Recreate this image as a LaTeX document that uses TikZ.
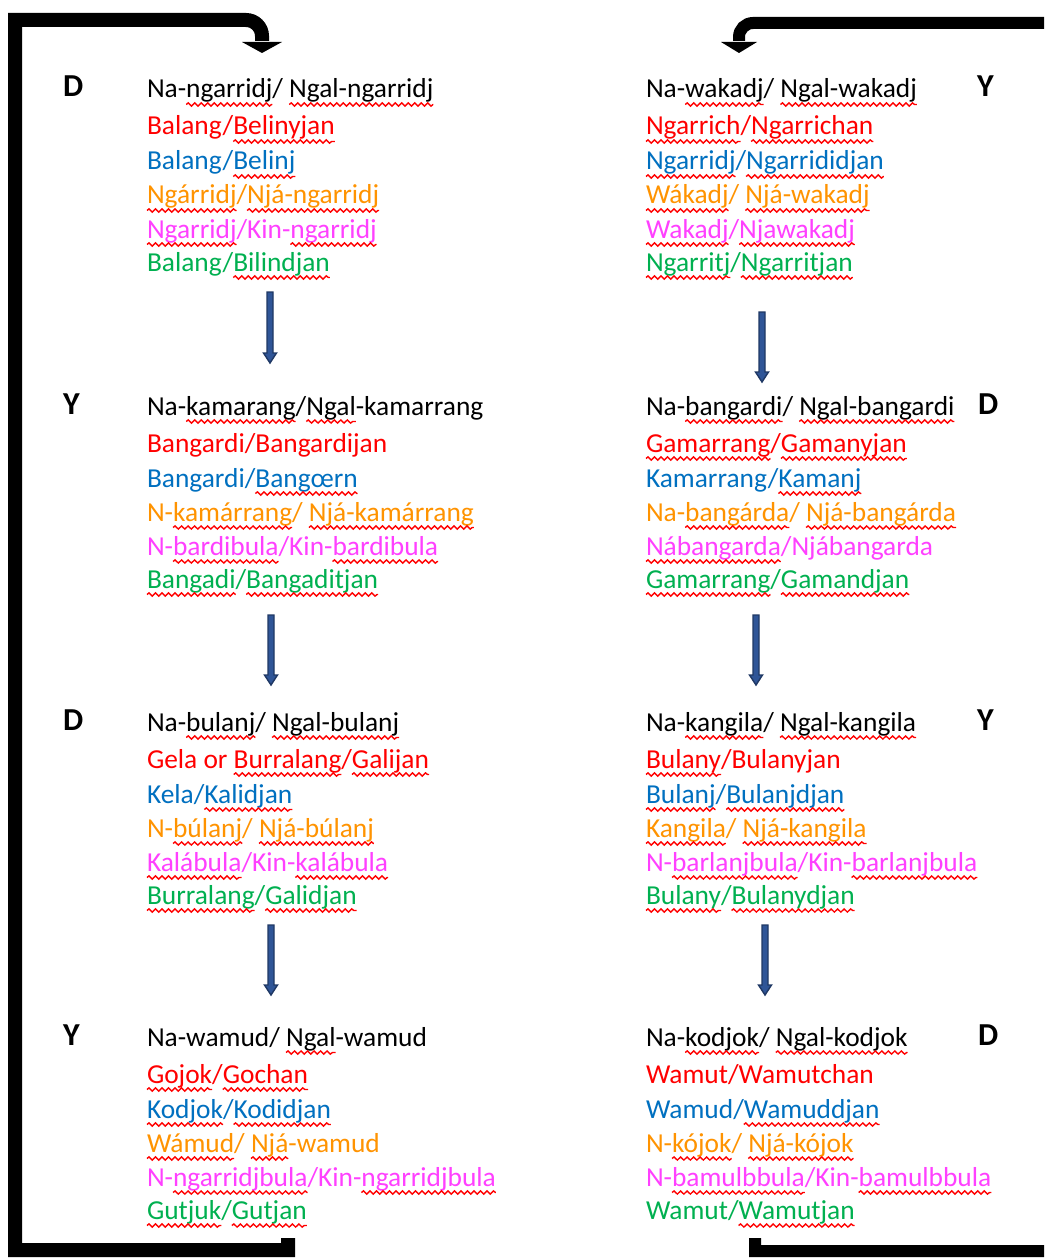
\documentclass[tikz,border=0pt]{standalone}
\usepackage{fontspec}
\setmainfont{Carlito}
\usetikzlibrary{calc,decorations.pathmorphing}
\definecolor{cred}{HTML}{FF0000}
\definecolor{cblue}{HTML}{0070C0}
\definecolor{corange}{HTML}{FF9300}
\definecolor{cmag}{HTML}{FF40FF}
\definecolor{cgreen}{HTML}{00B050}
\definecolor{arrfill}{HTML}{2F5597}
\definecolor{arredge}{HTML}{1F3864}
\newsavebox\wbox
\newdimen\wlen
\newcommand\sq[1]{\sbox\wbox{#1}\wlen=\wd\wbox\rlap{\usebox\wbox}\tikz[baseline=0pt]{\useasboundingbox (0pt,0pt) rectangle (\wlen,0pt);\draw[red,line width=1.4pt,decorate,decoration={snake,amplitude=1.6pt,segment length=6.5pt}] (0pt,-6.5pt) -- (\wlen,-6.5pt);}}
\newcommand\blk[9]{%
\node[txt] (#1a) at (#2,#3) {#4};
\node[txt,text=cred] (#1b) at (#2,#3+37) {#5};
\node[txt,text=cblue] (#1c) at (#2,#3+72) {#6};
\node[txt,text=corange] (#1d) at (#2,#3+106) {#7};
\node[txt,text=cmag] (#1e) at (#2,#3+140) {#8};
\node[txt,text=cgreen] (#1f) at (#2,#3+173) {#9};}
\newcommand\barrow[4]{%
\coordinate (#1s) at (#2,#3);
\coordinate (#1e) at (#2,#4);
\filldraw[barr] ([xshift=-3]#1s) -- ([xshift=3]#1s) -- ([xshift=3,yshift=10]#1e) -- ([xshift=6.5,yshift=10]#1e) -- (#1e) -- ([xshift=-6.5,yshift=10]#1e) -- ([xshift=-3,yshift=10]#1e) -- cycle;}
\begin{document}
\begin{tikzpicture}[x=1pt,y=-1pt,
  txt/.style={anchor=base west,inner sep=0pt,outer sep=0pt,font=\fontsize{27.4}{32}\selectfont,text=black},
  lbl/.style={anchor=base west,inner sep=0pt,font=\fontsize{32}{36}\selectfont\bfseries},
  barr/.style={fill=arrfill,draw=arredge,line width=1.4pt,line join=miter},
  bigL/.style={draw=black,line width=14pt,line join=miter},
  bigR/.style={draw=black,line width=12pt,line join=miter}]
\useasboundingbox (0,0) rectangle (1044,1260);
\clip (0,0) rectangle (1044,1260);
\fill[white] (0,0) rectangle (1044,1260);

% side letters
\node[lbl] (dL1) at (63,97) {D};
\node[lbl] (dL2) at (63,414) {Y};
\node[lbl] (dL3) at (63,730) {D};
\node[lbl] (dL4) at (63,1045) {Y};
\node[lbl] (dR1) at (977,97) {Y};
\node[lbl] (dR2) at (978,414) {D};
\node[lbl] (dR3) at (977,730) {Y};
\node[lbl] (dR4) at (978,1045) {D};

% left column
\blk{L1}{147}{98}
 {Na-\sq{ngarridj}/ \sq{Ngal-ngarridj}}
 {Balang/\sq{Belinyjan}}
 {Balang/\sq{Belinj}}
 {\sq{Ngárridj}/\sq{Njá-ngarridj}}
 {\sq{Ngarridj}/Kin-\sq{ngarridj}}
 {Balang/\sq{Bilindjan}}
\blk{L2}{147}{415}
 {Na-\sq{kamarang}/\sq{Ngal}-kamarrang}
 {Bangardi/Bangardijan}
 {Bangardi/\sq{Bangœrn}}
 {N-\sq{kamárrang}/ \sq{Njá-kamárrang}}
 {N-\sq{bardibula}/Kin-\sq{bardibula}}
 {\sq{Bangadi}/\sq{Bangaditjan}}
\blk{L3}{147}{731}
 {Na-\sq{bulanj}/ \sq{Ngal-bulanj}}
 {Gela or \sq{Burralang}/\sq{Galijan}}
 {Kela/\sq{Kalidjan}}
 {N-\sq{búlanj}/ \sq{Njá-búlanj}}
 {\sq{Kalábula}/Kin-\sq{kalábula}}
 {\sq{Burralang}/\sq{Galidjan}}
\blk{L4}{147}{1046}
 {Na-wamud/ \sq{Ngal}-wamud}
 {\sq{Gojok}/\sq{Gochan}}
 {\sq{Kodjok}/\sq{Kodidjan}}
 {\sq{Wámud}/ \sq{Njá}-wamud}
 {N-\sq{ngarridjbula}/Kin-\sq{ngarridjbula}}
 {\sq{Gutjuk}/\sq{Gutjan}}

% right column
\blk{R1}{646}{98}
 {Na-\sq{wakadj}/ \sq{Ngal-wakadj}}
 {\sq{Ngarrich}/\sq{Ngarrichan}}
 {\sq{Ngarridj}/\sq{Ngarrididjan}}
 {\sq{Wákadj}/ \sq{Njá-wakadj}}
 {\sq{Wakadj}/\sq{Njawakadj}}
 {\sq{Ngarritj}/\sq{Ngarritjan}}
\blk{R2}{646}{415}
 {Na-\sq{bangardi}/ \sq{Ngal-bangardi}}
 {\sq{Gamarrang}/\sq{Gamanyjan}}
 {Kamarrang/\sq{Kamanj}}
 {Na-\sq{bangárda}/ \sq{Njá-bangárda}}
 {\sq{Nábangarda}/Njábangarda}
 {\sq{Gamarrang}/\sq{Gamandjan}}
\blk{R3}{646}{731}
 {Na-\sq{kangila}/ \sq{Ngal-kangila}}
 {\sq{Bulany}/Bulanyjan}
 {\sq{Bulanj}/\sq{Bulanjdjan}}
 {\sq{Kangila}/ \sq{Njá-kangila}}
 {N-\sq{barlanjbula}/Kin-\sq{barlanjbula}}
 {\sq{Bulany}/\sq{Bulanydjan}}
\blk{R4}{646}{1046}
 {Na-\sq{kodjok}/ \sq{Ngal-kodjok}}
 {Wamut/Wamutchan}
 {Wamud/\sq{Wamuddjan}}
 {N-\sq{kójok}/ \sq{Njá-kójok}}
 {N-\sq{bamulbbula}/Kin-\sq{bamulbbula}}
 {Wamut/\sq{Wamutjan}}

% down arrows
\barrow{A1}{270}{292}{363}
\barrow{A2}{271}{615}{685}
\barrow{A3}{271}{925}{995}
\barrow{A4}{762}{312}{382}
\barrow{A5}{756}{615}{685}
\barrow{A6}{765}{925}{995}

% big return connectors
\coordinate (Ls) at (288,1238);
\coordinate (Le) at (262,42);
\draw[bigL] (Ls) -- (288,1250) -- (15,1250) -- (15,20) [rounded corners=16pt] -- (262,20) -- ([yshift=1]Le);
\fill[black] ([xshift=-20]Le) -- ([xshift=20]Le) -- ([yshift=-11]Le) -- cycle;

\coordinate (Rs) at (755,1238);
\coordinate (Re) at (739,42);
\draw[bigR] (Rs) -- (755,1251) -- (1060,1251) -- (1060,23) [rounded corners=14pt] -- (739,23) -- ([yshift=1]Re);
\fill[black] ([xshift=-18]Re) -- ([xshift=18]Re) -- ([yshift=-11]Re) -- cycle;
\end{tikzpicture}
\end{document}
